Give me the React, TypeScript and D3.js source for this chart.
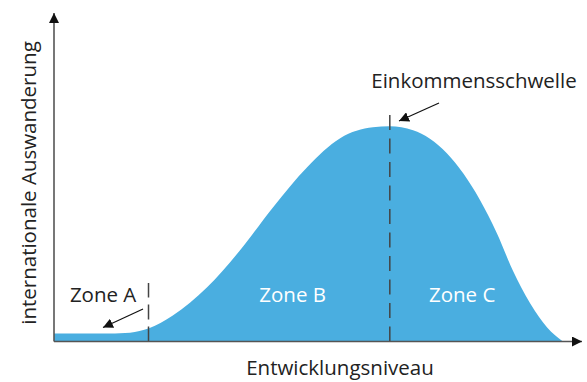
import React, { useRef, useEffect } from 'react';
import * as d3 from 'd3';

// development level (x) vs. international emigration (y), arbitrary units 0..10
const levels = [0, 0.87, 1.44, 1.8, 2.25, 2.9, 3.52, 4.15, 4.79, 5.42, 6.04, 6.36, 6.8, 7.44, 7.75, 8.07, 8.39, 8.69, 9.02, 9.34, 9.64];
const emigration = [0.24, 0.24, 0.27, 0.4, 0.79, 1.65, 2.77, 4.09, 5.3, 6.19, 6.52, 6.55, 6.43, 5.73, 5.12, 4.3, 3.29, 2.16, 1.16, 0.43, 0];

const thresholds = [1.79, 6.36];
const zoneNames = ['Zone A', 'Zone B', 'Zone C'];
const zoneLabelX = [0.93, 4.52, 7.73];
const xTitle = 'Entwicklungsniveau';
const yTitle = 'internationale Auswanderung';
const peakTitle = 'Einkommensschwelle';

const W = 587;
const H = 382;
const FONT = '"Open Sans", "Noto Sans", sans-serif';

const Chart = () => {
  const ref = useRef<SVGSVGElement>(null);

  useEffect(() => {
    const svg = d3.select(ref.current);
    svg.selectAll('*').remove();

    const x = d3.scaleLinear().domain([0, 10]).range([54, 582]);
    const y = d3.scaleLinear().domain([0, 10]).range([341.5, 13]);

    const defs = svg.append('defs');
    defs.append('marker')
      .attr('id', 'tip')
      .attr('viewBox', '0 0 10 10')
      .attr('refX', 10)
      .attr('refY', 5)
      .attr('markerWidth', 10)
      .attr('markerHeight', 10)
      .attr('markerUnits', 'userSpaceOnUse')
      .attr('orient', 'auto')
      .append('path')
      .attr('d', 'M0,0L10,5L0,10Z')
      .attr('fill', '#111');

    const pts = levels.map((l, i) => [l, emigration[i]] as [number, number]);

    // the blue area
    const area = d3.area<[number, number]>()
      .x(d => x(d[0]))
      .y0(y(0))
      .y1(d => y(d[1]))
      .curve(d3.curveMonotoneX);
    svg.append('path').datum(pts).attr('d', area).attr('fill', '#4aaee0');

    // dashed thresholds
    svg.append('line')
      .attr('x1', x(thresholds[0])).attr('x2', x(thresholds[0]))
      .attr('y1', y(0)).attr('y2', 283)
      .attr('stroke', '#444').attr('stroke-width', 1.5)
      .attr('stroke-dasharray', '15,7');
    svg.append('line')
      .attr('x1', x(thresholds[1])).attr('x2', x(thresholds[1]))
      .attr('y1', y(0)).attr('y2', 110)
      .attr('stroke', '#444').attr('stroke-width', 1.5)
      .attr('stroke-dasharray', '15,8.5');

    // axes with arrow heads
    svg.append('line')
      .attr('x1', x(0)).attr('x2', x(10)).attr('y1', y(0)).attr('y2', y(0))
      .attr('stroke', '#555').attr('stroke-width', 1.6)
      .attr('marker-end', 'url(#tip)');
    svg.append('line')
      .attr('x1', x(0)).attr('x2', x(0)).attr('y1', y(0)).attr('y2', y(10))
      .attr('stroke', '#555').attr('stroke-width', 1.6)
      .attr('marker-end', 'url(#tip)');

    // zone labels
    zoneNames.forEach((name, i) => {
      svg.append('text')
        .attr('x', x(zoneLabelX[i]))
        .attr('y', 302)
        .attr('text-anchor', 'middle')
        .attr('font-family', FONT)
        .attr('font-size', 20.5)
        .attr('fill', i === 0 ? '#222' : '#fff')
        .text(name);
    });

    // annotation arrows
    svg.append('line')
      .attr('x1', 143).attr('y1', 309).attr('x2', 103).attr('y2', 327.5)
      .attr('stroke', '#111').attr('stroke-width', 1.2)
      .attr('marker-end', 'url(#tip)');
    svg.append('line')
      .attr('x1', 439).attr('y1', 103).attr('x2', 399).attr('y2', 121)
      .attr('stroke', '#111').attr('stroke-width', 1.2)
      .attr('marker-end', 'url(#tip)');

    svg.append('text')
      .attr('x', 474).attr('y', 88)
      .attr('text-anchor', 'middle')
      .attr('font-family', FONT).attr('font-size', 20.5).attr('fill', '#222')
      .text(peakTitle);

    svg.append('text')
      .attr('x', 340).attr('y', 375)
      .attr('text-anchor', 'middle')
      .attr('font-family', FONT).attr('font-size', 20.5).attr('fill', '#222')
      .text(xTitle);

    svg.append('text')
      .attr('transform', 'translate(36,183) rotate(-90)')
      .attr('text-anchor', 'middle')
      .attr('font-family', FONT).attr('font-size', 20.5).attr('fill', '#222')
      .text(yTitle);
  }, []);

  return (
    <svg ref={ref} width={W} height={H}
      style={{ position: 'absolute', left: 0, top: 0, background: '#fff' }} />
  );
};

export default function App() {
  return <Chart />;
}
